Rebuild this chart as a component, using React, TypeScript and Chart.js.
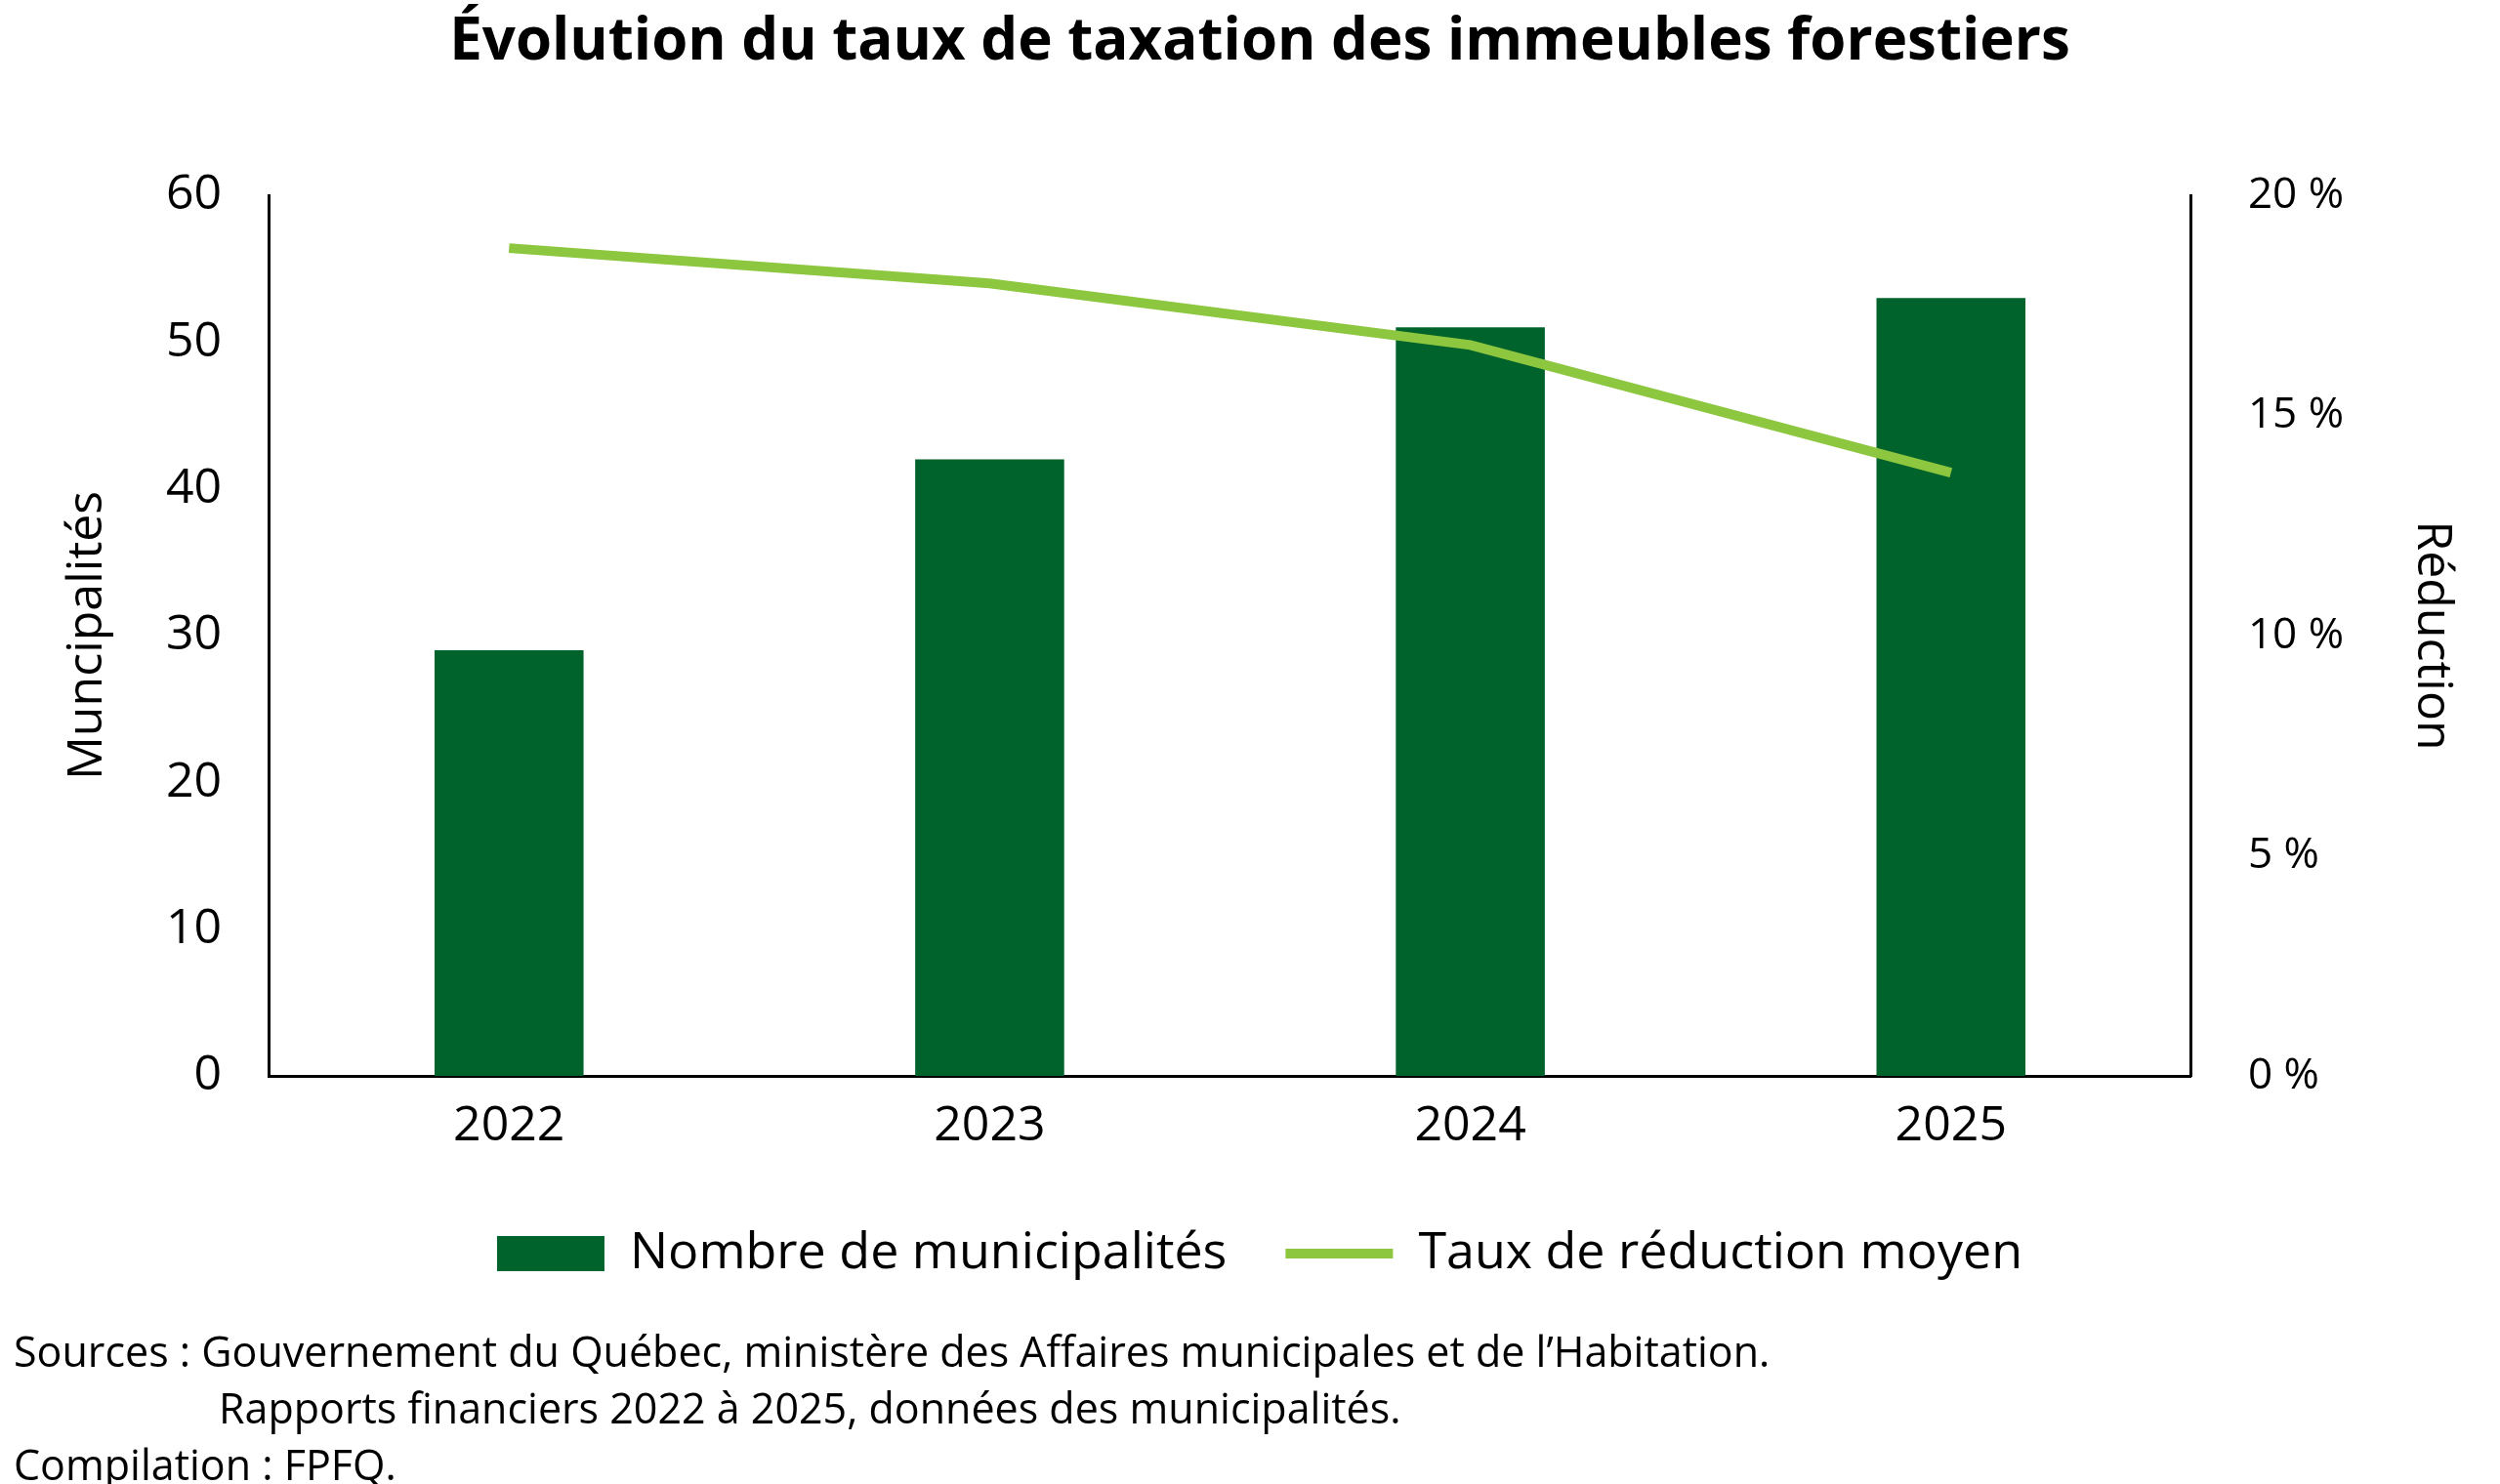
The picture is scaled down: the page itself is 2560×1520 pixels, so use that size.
import React, { useEffect, useRef } from "react";
import { Chart, registerables } from "chart.js";
Chart.register(...registerables);

const categories = ["2022", "2023", "2024", "2025"];
const municipalites = [29, 42, 51, 53];
const tauxReduction = [18.8, 18.0, 16.6, 13.7];
const leftTicks = [0, 10, 20, 30, 40, 50, 60];
const rightTicks = [0, 5, 10, 15, 20];

export default function App() {
  const ref = useRef<HTMLCanvasElement>(null);
  useEffect(() => {
    const ff = "'Open Sans', sans-serif";
    const chart = new Chart(ref.current!, {
      data: {
        labels: categories,
        datasets: [
          { type: "line", label: "Taux de réduction moyen", data: tauxReduction, yAxisID: "y1", borderColor: "#8dc63f", backgroundColor: "#8dc63f", borderWidth: 10, pointRadius: 0, pointStyle: "line", tension: 0, order: 0 },
          { type: "bar", label: "Nombre de municipalités", data: municipalites, yAxisID: "y", backgroundColor: "#00632b", categoryPercentage: 1, barPercentage: 0.31, pointStyle: "rect", order: 1 },
        ],
      },
      options: {
        animation: false,
        responsive: false,
        layout: { padding: { left: 50, right: 30, top: 0, bottom: 0 } },
        plugins: {
          title: { display: true, text: "Évolution du taux de taxation des immeubles forestiers", color: "#000", font: { family: ff, size: 60, weight: "bold" }, padding: { top: 8, bottom: 120 } },
          legend: {
            position: "bottom",
            reverse: true,
            labels: { usePointStyle: true, pointStyleWidth: 110, boxHeight: 36, color: "#000", font: { family: ff, size: 52 }, padding: 60 },
          },
          tooltip: { enabled: false },
        },
        scales: {
          x: { grid: { display: false }, border: { color: "#000", width: 3 }, ticks: { color: "#000", font: { family: ff, size: 50 }, padding: 14 } },
          y: {
            min: 0, max: 60, position: "left",
            afterBuildTicks: (s: any) => { s.ticks = leftTicks.map((v) => ({ value: v })); },
            grid: { display: false }, border: { color: "#000", width: 3 },
            ticks: { color: "#000", font: { family: ff, size: 50 }, padding: 40 },
            title: { display: true, text: "Muncipalités", color: "#000", font: { family: ff, size: 50 }, padding: 10 },
          },
          y1: {
            min: 0, max: 20, position: "right",
            afterBuildTicks: (s: any) => { s.ticks = rightTicks.map((v) => ({ value: v })); },
            grid: { display: false }, border: { color: "#000", width: 3 },
            ticks: { color: "#000", font: { family: ff, size: 44 }, padding: 50, callback: (v: any) => v + " %" },
            title: { display: true, text: "Réduction", color: "#000", font: { family: ff, size: 50 }, padding: 10 },
          },
        },
      },
    } as any);
    return () => chart.destroy();
  }, []);
  const src: React.CSSProperties = { position: "absolute", left: 14, fontFamily: "'Open Sans', sans-serif", fontSize: 43, color: "#000", whiteSpace: "pre", lineHeight: "58px" };
  return (
    <div style={{ position: "fixed", left: 0, top: 0, width: 2560, height: 1520, background: "#fff" }}>
      <canvas ref={ref} width={2560} height={1320} style={{ position: "absolute", left: 0, top: 0 }} />
      <div style={{ ...src, top: 1355 }}>
        {"Sources : Gouvernement du Québec, ministère des Affaires municipales et de l’Habitation.\n"}
        <span style={{ paddingLeft: 210 }}>Rapports financiers 2022 à 2025, données des municipalités.</span>
        {"\nCompilation : FPFQ."}
      </div>
    </div>
  );
}
